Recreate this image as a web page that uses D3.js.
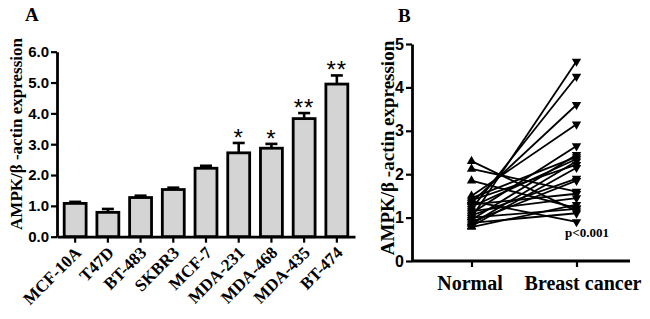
<!DOCTYPE html>
<html>
<head>
<meta charset="utf-8">
<script src="https://cdn.jsdelivr.net/npm/d3@7/dist/d3.min.js"></script>
<style>
  body { margin: 0; background: #fff; }
  svg { display: block; }
</style>
</head>
<body>
<div id="chart"></div>
<script>
// panel A: cell lines
let cellLines = ['MCF-10A', 'T47D', 'BT-483', 'SKBR3', 'MCF-7', 'MDA-231', 'MDA-468', 'MDA-435', 'BT-474'];
let cellMeans = [1.08, 0.79, 1.27, 1.53, 2.22, 2.72, 2.87, 3.83, 4.95];
let cellErrors = [0.05, 0.11, 0.06, 0.06, 0.08, 0.32, 0.14, 0.18, 0.28];
let cellStars = ['', '', '', '', '', '*', '*', '**', '**'];
let ticksA = [0, 1, 2, 3, 4, 5, 6];

// panel B: paired samples
let groups = ['Normal', 'Breast cancer'];
let normalValues = [1.00, 1.20, 1.35, 1.50, 1.10, 0.95, 1.45, 1.25, 0.85, 1.40, 0.80, 1.05, 0.90, 2.12, 1.30, 2.30, 1.15, 1.85, 0.78, 1.38, 0.88, 1.00];
let cancerValues = [4.60, 4.25, 3.60, 3.15, 2.65, 2.45, 2.40, 2.35, 2.30, 2.22, 2.15, 1.90, 1.85, 1.60, 1.55, 1.15, 1.45, 1.22, 1.30, 0.90, 1.10, 1.20];
let ticksB = [0, 1, 2, 3, 4, 5];

let width = 650;
let height = 319;

const sans = "'Liberation Sans', Arial, sans-serif";
const serif = "'Liberation Serif', 'Times New Roman', serif";

const svg = d3.select('#chart').append('svg')
  .attr('width', width)
  .attr('height', height);

// ---------- A ----------
let mA = {top: 51.7, bottom: 236.7, left: 57, right: 355};

let xA = d3.scaleBand()
  .domain(cellLines)
  .range([mA.left, mA.right])
  .paddingInner(0.33)
  .paddingOuter(0.22);

let yA = d3.scaleLinear()
  .domain([0, 6])
  .range([mA.bottom, mA.top]);

let midA = d => xA(d) + xA.bandwidth() / 2;

const gA = svg.append('g');

// bars
gA.selectAll('rect.bar')
  .data(cellLines)
  .join('rect')
  .attr('class', 'bar')
  .attr('x', d => xA(d))
  .attr('y', (d, i) => yA(cellMeans[i]))
  .attr('width', xA.bandwidth())
  .attr('height', (d, i) => yA(0) - yA(cellMeans[i]))
  .attr('fill', '#d4d4d4')
  .attr('stroke', '#000')
  .attr('stroke-width', 2.8);

// error bars (upper only)
let cap = 12;
const err = gA.selectAll('g.err')
  .data(cellLines)
  .join('g')
  .attr('class', 'err')
  .attr('stroke', '#000')
  .attr('stroke-width', 2.6);

err.append('line')
  .attr('x1', midA)
  .attr('x2', midA)
  .attr('y1', (d, i) => yA(cellMeans[i]))
  .attr('y2', (d, i) => yA(cellMeans[i] + cellErrors[i]));

err.append('line')
  .attr('x1', d => midA(d) - cap / 2)
  .attr('x2', d => midA(d) + cap / 2)
  .attr('y1', (d, i) => yA(cellMeans[i] + cellErrors[i]))
  .attr('y2', (d, i) => yA(cellMeans[i] + cellErrors[i]));

// significance stars
gA.selectAll('text.star')
  .data(cellLines)
  .join('text')
  .attr('class', 'star')
  .attr('x', midA)
  .attr('y', (d, i) => yA(cellMeans[i] + cellErrors[i]) + 3)
  .attr('text-anchor', 'middle')
  .attr('font-family', sans)
  .attr('font-size', 24)
  .attr('letter-spacing', 1)
  .text((d, i) => cellStars[i]);

// axes
let xAxisA = g => g
  .attr('transform', `translate(0, ${mA.bottom})`)
  .call(d3.axisBottom(xA).tickSize(6).tickSizeOuter(0).tickFormat(''))
  .call(g => g.select('.domain').attr('stroke-width', 2.8))
  .call(g => g.selectAll('.tick line').attr('stroke-width', 2.2));

let yAxisA = g => g
  .attr('transform', `translate(${mA.left}, 0)`)
  .call(d3.axisLeft(yA).tickValues(ticksA).tickFormat(d3.format('.1f')).tickSize(6).tickPadding(2).tickSizeOuter(0))
  .call(g => g.select('.domain').attr('stroke-width', 2.8))
  .call(g => g.selectAll('.tick line').attr('stroke-width', 2.2))
  .call(g => g.selectAll('.tick text')
    .attr('font-family', sans)
    .attr('font-weight', 'bold')
    .attr('font-size', 15)
    .attr('fill', '#000'));

gA.append('g').call(xAxisA);
gA.append('g').call(yAxisA);

// slanted category labels
gA.selectAll('text.cat')
  .data(cellLines)
  .join('text')
  .attr('class', 'cat')
  .attr('transform', d => `translate(${midA(d) + 7}, ${mA.bottom + 17}) rotate(-45)`)
  .attr('text-anchor', 'end')
  .attr('font-family', serif)
  .attr('font-weight', 'bold')
  .attr('font-size', 17)
  .text(d => d);

gA.append('text')
  .attr('transform', `translate(22, 134) rotate(-90)`)
  .attr('text-anchor', 'middle')
  .attr('font-family', serif)
  .attr('font-weight', 'bold')
  .attr('font-size', 17)
  .text('AMPK/β -actin expression');

gA.append('text')
  .attr('x', 25)
  .attr('y', 21)
  .attr('font-family', serif)
  .attr('font-weight', 'bold')
  .attr('font-size', 19)
  .text('A');

// ---------- B ----------
let mB = {top: 44, bottom: 261, left: 412, right: 630};

let xB = d3.scalePoint()
  .domain(groups)
  .range([471.5, 576.5]);

let yB = d3.scaleLinear()
  .domain([0, 5])
  .range([mB.bottom, mB.top]);

const gB = svg.append('g');

let pairs = normalValues.map((v, i) => [v, cancerValues[i]]);

// connecting lines
let line = d3.line()
  .x((d, i) => xB(groups[i]))
  .y(d => yB(d));

gB.selectAll('path.pair')
  .data(pairs)
  .join('path')
  .attr('class', 'pair')
  .attr('fill', 'none')
  .attr('stroke', '#000')
  .attr('stroke-width', 1.8)
  .attr('d', line);

// markers
let tri = d3.symbol().type(d3.symbolTriangle).size(38);

gB.selectAll('path.up')
  .data(normalValues)
  .join('path')
  .attr('class', 'up')
  .attr('transform', d => `translate(${xB(groups[0])}, ${yB(d)})`)
  .attr('d', tri);

gB.selectAll('path.down')
  .data(cancerValues)
  .join('path')
  .attr('class', 'down')
  .attr('transform', d => `translate(${xB(groups[1])}, ${yB(d)}) rotate(180)`)
  .attr('d', tri);

let xAxisB = g => g
  .attr('transform', `translate(0, ${mB.bottom})`)
  .call(d3.axisBottom(xB).tickSize(6).tickPadding(9).tickSizeOuter(0))
  .call(g => g.select('.domain').attr('d', `M${mB.left},0H${mB.right}`).attr('stroke-width', 2.8))
  .call(g => g.selectAll('.tick line').attr('stroke-width', 2.2))
  .call(g => g.selectAll('.tick text')
    .attr('font-family', serif)
    .attr('font-weight', 'bold')
    .attr('font-size', 20)
    .attr('fill', '#000')
    .attr('dx', (d, i) => i === 1 ? 6 : -2));

let yAxisB = g => g
  .attr('transform', `translate(${mB.left}, 0)`)
  .call(d3.axisLeft(yB).tickValues(ticksB).tickFormat(d3.format('d')).tickSize(6).tickPadding(2).tickSizeOuter(0))
  .call(g => g.select('.domain').attr('stroke-width', 2.8))
  .call(g => g.selectAll('.tick line').attr('stroke-width', 2.2))
  .call(g => g.selectAll('.tick text')
    .attr('font-family', sans)
    .attr('font-weight', 'bold')
    .attr('font-size', 16)
    .attr('fill', '#000'));

gB.append('g').call(xAxisB);
gB.append('g').call(yAxisB);

gB.append('text')
  .attr('transform', `translate(394, 148) rotate(-90)`)
  .attr('text-anchor', 'middle')
  .attr('font-family', serif)
  .attr('font-weight', 'bold')
  .attr('font-size', 19)
  .text('AMPK/β -actin expression');

gB.append('text')
  .attr('x', 398)
  .attr('y', 22)
  .attr('font-family', serif)
  .attr('font-weight', 'bold')
  .attr('font-size', 19)
  .text('B');

gB.append('text')
  .attr('x', 565)
  .attr('y', 237)
  .attr('font-family', serif)
  .attr('font-weight', 'bold')
  .attr('font-size', 13)
  .text('p<0.001');
</script>
</body>
</html>
